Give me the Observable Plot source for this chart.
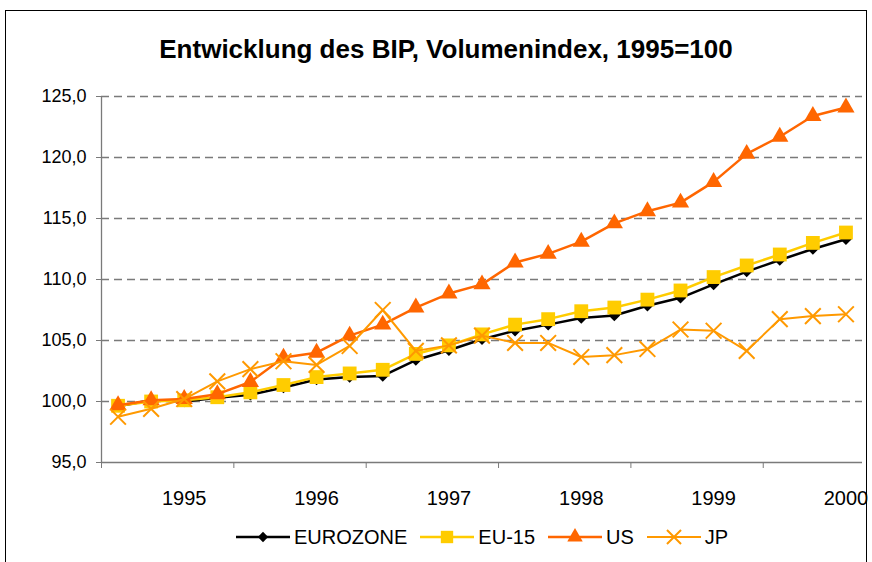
<!DOCTYPE html>
<html><head><meta charset="utf-8">
<script src="https://cdn.jsdelivr.net/npm/d3@7"></script>
<script src="https://cdn.jsdelivr.net/npm/@observablehq/plot@0.6"></script>
<style>
body{margin:0;background:#fff;font-family:"Liberation Sans",Arial,sans-serif;}
#wrap{position:relative;width:872px;height:562px;overflow:hidden;background:#fff;}
#frame{position:absolute;left:5px;top:10px;width:862px;height:600px;border:1px solid #000;box-sizing:border-box;}
#chart{position:absolute;left:0;top:0;}
#title{position:absolute;left:0;width:892px;top:36px;text-align:center;font-weight:bold;font-size:26px;line-height:26px;color:#000;}
#legend{position:absolute;left:236px;top:526px;height:22px;display:flex;align-items:center;font-size:20px;line-height:22px;color:#000;}
#legend .item{display:flex;align-items:center;margin-right:13px;}
#legend svg{margin-right:4px;}
</style></head><body>
<div id="wrap"><div id="frame"></div><div id="chart"></div><div id="title">Entwicklung des BIP, Volumenindex, 1995=100</div><div id="legend"></div></div>
<script>
const quarters = ["1994Q3","1994Q4",
  "1995Q1","1995Q2","1995Q3","1995Q4",
  "1996Q1","1996Q2","1996Q3","1996Q4",
  "1997Q1","1997Q2","1997Q3","1997Q4",
  "1998Q1","1998Q2","1998Q3","1998Q4",
  "1999Q1","1999Q2","1999Q3","1999Q4",
  "2000Q1"];
const eurozone = [99.6, 100.1, 100.0, 100.3, 100.55, 101.15, 101.8, 102.0, 102.1, 103.4, 104.2, 105.1, 105.8, 106.3, 106.85, 107.05, 107.85, 108.5, 109.6, 110.65, 111.6, 112.5, 113.3];
const eu15 = [99.65, 100.0, 100.1, 100.35, 100.75, 101.35, 102.0, 102.3, 102.6, 103.9, 104.6, 105.5, 106.3, 106.75, 107.4, 107.7, 108.35, 109.1, 110.2, 111.15, 112.05, 113.0, 113.85];
const us = [99.7, 100.1, 100.2, 100.6, 101.6, 103.6, 104.0, 105.4, 106.3, 107.7, 108.85, 109.6, 111.4, 112.1, 113.1, 114.6, 115.6, 116.3, 118.0, 120.3, 121.7, 123.4, 124.1];
const jp = [98.75, 99.4, 100.2, 101.65, 102.65, 103.3, 103.0, 104.55, 107.5, 104.15, 104.6, 105.4, 104.8, 104.8, 103.65, 103.8, 104.3, 105.9, 105.8, 104.15, 106.75, 107.0, 107.15];
const seriesNames = ["EUROZONE", "EU-15", "US", "JP"];
const yTicks = [95, 100, 105, 110, 115, 120, 125];

const styles = {
  "EUROZONE": {color:"#000000", symbol:"diamond2", r:5.2, filled:true, lw:2.5},
  "EU-15": {color:"#FFCC00", symbol:"square", r:7.8, filled:true, lw:2.5},
  "US": {color:"#FF6600", symbol:"triangle", r:6.4, filled:true, lw:2.5},
  "JP": {color:"#FF9900", symbol:"times", r:7.2, filled:false, lw:2}
};
const valuesBy = {"EUROZONE": eurozone, "EU-15": eu15, "US": us, "JP": jp};
const rows = name => valuesBy[name].map((v, i) => ({i, v, q: quarters[i]}));

// year labels at Q1, tick marks before each Q3 (category boundaries)
const labelIdx = quarters.map((q, i) => q.endsWith("Q1") ? i : null).filter(d => d !== null);
const boundaries = quarters.map((q, i) => q.endsWith("Q3") ? i - 0.5 : null).filter(d => d !== null);
const axisColor = "#7a7a7a";

const marks = [
  Plot.ruleY(yTicks.slice(1), {y: d => d, stroke: axisColor, strokeWidth: 1.3, strokeDasharray: "8,5"}),
  Plot.ruleX([-0.5], {stroke: axisColor, strokeWidth: 1.3}),
  Plot.ruleY([yTicks[0]], {stroke: axisColor, strokeWidth: 1.3}),
  Plot.axisY({ticks: yTicks, tickSize: 5, tickPadding: 10, stroke: axisColor, fill: "#000", fontSize: 18, label: null,
    tickFormat: d => d.toFixed(1).replace(".", ",")}),
  Plot.axisX({ticks: boundaries, tickSize: 6, stroke: axisColor, label: null, tickFormat: () => ""}),
  Plot.axisX({ticks: labelIdx, tickSize: 0, tickPadding: 28, fill: "#000", fontSize: 20, label: null,
    tickFormat: i => quarters[i].slice(0, 4)})
];
for (const name of seriesNames) {
  const s = styles[name];
  marks.push(Plot.line(rows(name), {x: "i", y: "v", stroke: s.color, strokeWidth: s.lw}));
  marks.push(Plot.dot(rows(name), s.filled
    ? {x: "i", y: "v", symbol: s.symbol, r: s.r, fill: s.color, stroke: "none"}
    : {x: "i", y: "v", symbol: s.symbol, r: s.r, fill: "none", stroke: s.color, strokeWidth: 2}));
}

const chart = Plot.plot({
  width: 872, height: 562,
  marginLeft: 101, marginRight: 10, marginTop: 96, marginBottom: 100,
  x: {type: "linear", domain: [-0.5, quarters.length - 0.5], label: null},
  y: {domain: [yTicks[0], yTicks[yTicks.length - 1]], label: null},
  style: {fontFamily: "'Liberation Sans', Arial, sans-serif", fontSize: "18px", background: "transparent", color: "#000", overflow: "visible"},
  marks
});
document.getElementById("chart").appendChild(chart);

// legend
const legend = d3.select("#legend");
const symMap = {diamond2: d3.symbolDiamond2, square: d3.symbolSquare, triangle: d3.symbolTriangle, times: d3.symbolTimes};
for (const name of seriesNames) {
  const s = styles[name];
  const item = legend.append("div").attr("class", "item");
  const svg = item.append("svg").attr("width", 54).attr("height", 22);
  svg.append("line").attr("x1", 0).attr("x2", 54).attr("y1", 11).attr("y2", 11)
    .attr("stroke", s.color).attr("stroke-width", s.lw);
  const size = Math.PI * s.r * s.r * 0.8;
  const p = svg.append("path").attr("transform", "translate(27,11)")
    .attr("d", d3.symbol(symMap[s.symbol], size)());
  if (s.filled) p.attr("fill", s.color); else p.attr("fill", "none").attr("stroke", s.color).attr("stroke-width", 2);
  item.append("span").text(name);
}
</script>
</body></html>
